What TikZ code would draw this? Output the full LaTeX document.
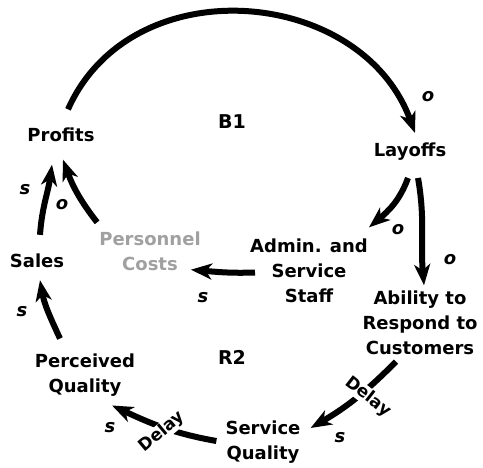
\documentclass[tikz,border=0pt]{standalone}
\usepackage{fontspec}
\setmainfont{DejaVu Sans}
\usetikzlibrary{arrows.meta}
\definecolor{costgray}{HTML}{A0A0A0}
\tikzset{
  var/.style      = {align=center, inner sep=0pt, font=\fontsize{18}{25}\selectfont\bfseries},
  loopname/.style = {inner sep=0pt, font=\fontsize{19}{22}\selectfont\bfseries},
  pol/.style      = {inner sep=0pt, font=\fontsize{18}{20}\selectfont\bfseries\itshape},
  delay/.style    = {fill=white, inner sep=0.5pt, font=\fontsize{17}{19}\selectfont\bfseries},
  arrow/.style    = {-{Stealth[length=21pt, width=16pt, inset=6pt]}, line width=6pt}
}

\begin{document}
\begin{tikzpicture}[x=1pt, y=1pt]
  \useasboundingbox (0,0) rectangle (483,467);
  \node[var]                  (profits)   at (61,332.5) {Profits};
  \node[var]                  (layoffs)   at (410,315)  {Layoffs};
  \node[var]                  (admin)     at (309,196.5) {Admin. and\\Service\\Staff};
  \node[var, text=costgray]   (costs)     at (150,216)  {Personnel\\Costs};
  \node[var]                  (ability)   at (420,144.5) {Ability to\\Respond to\\Customers};
  \node[var]                  (sales)     at (37,206)   {Sales};
  \node[var]                  (perceived) at (85,92)    {Perceived\\Quality};
  \node[var]                  (service)   at (263,25)   {Service\\Quality};
  \node[loopname]             (b1)        at (232,345)  {B1};
  \node[loopname]             (r2)        at (232,110)  {R2};

  \draw[arrow] ([xshift=7pt, yshift=18pt]profits.north) to[out=66, in=110, looseness=1.15] ([xshift=5pt, yshift=10pt]layoffs.north);
  \draw[arrow] ([xshift=-2pt, yshift=-17pt]layoffs.south) to[out=250, in=40] ([xshift=1pt, yshift=11pt]admin.north east);
  \draw[arrow] ([xshift=8pt, yshift=-17pt]layoffs.south) to[out=-80, in=95] ([xshift=4pt, yshift=5pt]ability.north);
  \draw[arrow] ([xshift=5pt, yshift=-2pt]admin.west) to[out=182, in=-5] ([xshift=-10pt, yshift=1pt]costs.south east);
  \draw[arrow] ([xshift=-24pt, yshift=-7pt]ability.south) to[out=225, in=30] ([xshift=10pt, yshift=14pt]service.east);
  \draw[arrow] ([xshift=-9pt, yshift=1pt]service.west) to[out=170, in=-25] ([xshift=27pt, yshift=-9pt]perceived.south);
  \draw[arrow] ([xshift=-25pt, yshift=15pt]perceived.north) to[out=115, in=-80] ([xshift=3pt, yshift=-12pt]sales.south);
  \draw[arrow] ([xshift=3pt, yshift=19pt]sales.north) to[out=86, in=-98] ([xshift=-9pt, yshift=-23pt]profits.south);
  \draw[arrow] ([xshift=-2pt, yshift=9pt]costs.north west) to[out=128, in=-70] ([xshift=2pt, yshift=-18pt]profits.south);

  \node[delay, rotate=-38] (delayA) at (368,70) {Delay};
  \node[delay, rotate=40]  (delayB) at (162,35) {Delay};

  \node[pol] (polA) at (428,370) {o};
  \node[pol] (polB) at (398,237) {o};
  \node[pol] (polC) at (450,207) {o};
  \node[pol] (polD) at (203,169) {s};
  \node[pol] (polE) at (340,29)  {s};
  \node[pol] (polF) at (110,39)  {s};
  \node[pol] (polG) at (22,155)  {s};
  \node[pol] (polH) at (25,277)  {s};
  \node[pol] (polI) at (62,262)  {o};
\end{tikzpicture}
\end{document}
